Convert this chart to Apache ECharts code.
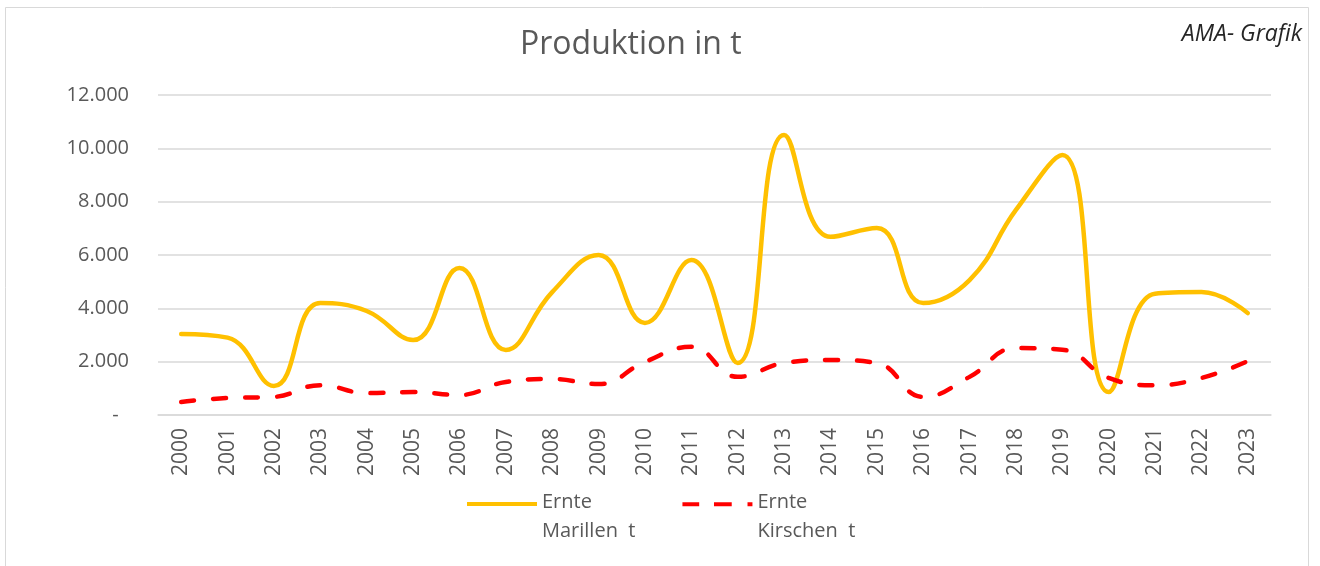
<!DOCTYPE html>
<html>
<head>
<meta charset="utf-8">
<script src="https://cdn.jsdelivr.net/npm/echarts@6/dist/echarts.min.js"></script>
<style>
html,body{margin:0;padding:0;background:#fff;}
#chart{width:1320px;height:566px;}
</style>
</head>
<body>
<div id="chart"></div>
<script>
const years = ['2000','2001','2002','2003','2004','2005','2006','2007','2008','2009','2010','2011','2012','2013','2014','2015','2016','2017','2018','2019','2020','2021','2022','2023'];
const marillen = [3040,2900,1090,4200,3900,2810,5510,2440,4610,6000,3450,5810,1950,10500,6680,7010,4200,5060,7690,9750,860,4550,4610,3820];
const kirschen = [490,640,680,1120,820,860,750,1240,1350,1160,1990,2560,1430,1950,2060,1950,680,1430,2510,2450,1390,1120,1390,2020];
const yTicks = [0,2000,4000,6000,8000,10000,12000];
const seriesNames = ['Ernte\nMarillen  t','Ernte\nKirschen  t'];
const titleText = 'Produktion in t';
const sourceText = 'AMA- Grafik';

const chart = echarts.init(document.getElementById('chart'), null, {renderer:'canvas'});
const font = 'Open Sans';
const fmt = v => v === 0 ? '-  ' : v.toLocaleString('de-DE');

chart.setOption({
  animation:false,
  backgroundColor:'#ffffff',
  title:{
    text:titleText, left:520, top:29, padding:0,
    textStyle:{fontFamily:font, fontSize:32, fontWeight:'normal', color:'#595959'}
  },
  graphic:[
    {type:'rect', shape:{x:5.5, y:7.5, width:1303, height:570}, style:{fill:'none', stroke:'#d9d9d9', lineWidth:1}, silent:true},
    {type:'text', right:18, top:23, style:{text:sourceText, font:'italic 23px "Open Sans"', fill:'#262626'}}
  ],
  legend:{
    left:467, top:488, padding:0, orient:'horizontal', itemGap:47,
    itemWidth:70, itemHeight:30,
    itemStyle:{borderWidth:0},
    textStyle:{fontFamily:font, fontSize:20, color:'#595959', lineHeight:29},
    data:[
      {name:seriesNames[0], icon:'path://M0,0 H70 V4 H0 Z M0,29.9 H0.1 V30 H0 Z'},
      {name:seriesNames[1], icon:'path://M0,0 H17 V4 H0 Z M32,0 H50 V4 H32 Z M66,0 H71 V4 H66 Z M0,29.9 H0.1 V30 H0 Z'}
    ]
  },
  grid:{left:158, right:49, top:95, height:320, containLabel:false},
  xAxis:{
    type:'category', data:years, boundaryGap:true,
    axisLine:{lineStyle:{color:'#d9d9d9', width:1.5}},
    axisTick:{show:false},
    axisLabel:{rotate:90, margin:13, fontFamily:font, fontSize:21, color:'#595959', interval:0}
  },
  yAxis:{
    type:'value', min:yTicks[0], max:yTicks[yTicks.length-1], interval:2000,
    axisLine:{show:false}, axisTick:{show:false},
    splitLine:{lineStyle:{color:'#d9d9d9', width:1.5}},
    axisLabel:{margin:29, fontFamily:font, fontSize:20, color:'#595959', formatter:fmt}
  },
  series:[
    {name:seriesNames[0], type:'line', data:marillen, smooth:0.45, symbol:'none',
     itemStyle:{color:'#FFC000'},
     lineStyle:{color:'#FFC000', width:4.5, cap:'round'}},
    {name:seriesNames[1], type:'line', data:kirschen, smooth:0.45, symbol:'none',
     itemStyle:{color:'#FF0000'},
     lineStyle:{color:'#FF0000', width:4.5, type:[13,19], cap:'round'}}
  ]
});
</script>
</body>
</html>
